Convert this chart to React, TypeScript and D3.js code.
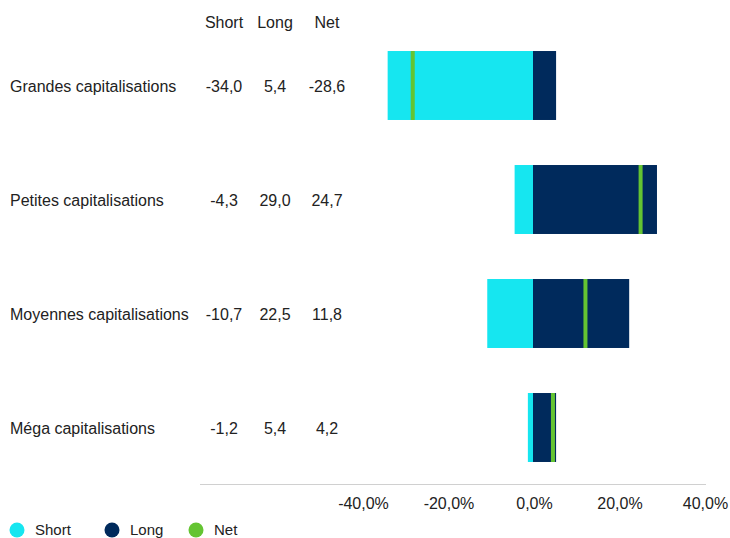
import { useEffect, useRef } from 'react';
import * as d3 from 'd3';

const categories = [
  'Grandes capitalisations',
  'Petites capitalisations',
  'Moyennes capitalisations',
  'Méga capitalisations',
];
const shortValues = [-34.0, -4.3, -10.7, -1.2];
const longValues = [5.4, 29.0, 22.5, 5.4];
const netValues = [-28.6, 24.7, 11.8, 4.2];
const xTicks = [-40, -20, 0, 20, 40];
const columns = ['Short', 'Long', 'Net'];

const colors = { Short: '#16e6f0', Long: '#002a5c', Net: '#64c432' };

const fmt = (v: number) => v.toFixed(1).replace('.', ',');

export default function App() {
  const svgRef = useRef<SVGSVGElement>(null);
  const width = 730;
  const height = 538;

  useEffect(() => {
    if (!svgRef.current) return;
    const svg = d3.select(svgRef.current);
    svg.selectAll('*').remove();

    const font = '"Liberation Sans", Arial, sans-serif';
    const fontSize = '16px';
    const textColor = '#222';

    const x = d3.scaleLinear().domain([-40, 40]).range([362, 704]);
    const y = d3.scaleBand<string>()
      .domain(categories)
      .range([28.5, 484.5])
      .paddingInner(0.395)
      .paddingOuter(0.1975);

    const colX = [224, 275, 327];

    // headers
    svg.append('g').selectAll('text')
      .data(columns)
      .join('text')
      .attr('x', (_, i) => colX[i])
      .attr('y', 28)
      .attr('text-anchor', 'middle')
      .style('font-family', font)
      .style('font-size', fontSize)
      .style('fill', textColor)
      .text(d => d);

    const rows = categories.map((c, i) => ({
      cat: c, s: shortValues[i], l: longValues[i], n: netValues[i],
    }));

    // row labels
    svg.append('g').selectAll('text')
      .data(rows)
      .join('text')
      .attr('x', 10)
      .attr('y', d => (y(d.cat) || 0) + y.bandwidth() / 2 + 1)
      .attr('dy', '0.35em')
      .style('font-family', font)
      .style('font-size', fontSize)
      .style('fill', textColor)
      .text(d => d.cat);

    // value columns
    rows.forEach(d => {
      [d.s, d.l, d.n].forEach((v, j) => {
        svg.append('text')
          .attr('x', colX[j])
          .attr('y', (y(d.cat) || 0) + y.bandwidth() / 2 + 1)
          .attr('dy', '0.35em')
          .attr('text-anchor', 'middle')
          .style('font-family', font)
          .style('font-size', fontSize)
          .style('fill', textColor)
          .text(fmt(v));
      });
    });

    // short bars
    svg.append('g').selectAll('rect')
      .data(rows)
      .join('rect')
      .attr('x', d => x(d.s))
      .attr('y', d => y(d.cat) || 0)
      .attr('width', d => x(0) - x(d.s))
      .attr('height', y.bandwidth())
      .attr('fill', colors.Short);

    // long bars
    svg.append('g').selectAll('rect')
      .data(rows)
      .join('rect')
      .attr('x', x(0))
      .attr('y', d => y(d.cat) || 0)
      .attr('width', d => x(d.l) - x(0))
      .attr('height', y.bandwidth())
      .attr('fill', colors.Long);

    // net markers (left edge on the value)
    svg.append('g').selectAll('rect')
      .data(rows)
      .join('rect')
      .attr('x', d => x(d.n))
      .attr('y', d => y(d.cat) || 0)
      .attr('width', 4)
      .attr('height', y.bandwidth())
      .attr('fill', colors.Net);

    // axis
    svg.append('line')
      .attr('x1', 200).attr('x2', 706)
      .attr('y1', 484.5).attr('y2', 484.5)
      .attr('stroke', '#d0d0d0')
      .attr('stroke-width', 1);

    svg.append('g').selectAll('text')
      .data(xTicks)
      .join('text')
      .attr('x', d => x(d) + 1.5)
      .attr('y', 509)
      .attr('text-anchor', 'middle')
      .style('font-family', font)
      .style('font-size', fontSize)
      .style('fill', textColor)
      .text(d => fmt(d) + '%');

    // legend
    const legendX = [17, 112, 196];
    const lg = svg.append('g').selectAll('g')
      .data(columns)
      .join('g')
      .attr('transform', (_, i) => `translate(${legendX[i]},530)`);
    lg.append('circle')
      .attr('r', 7.5)
      .attr('fill', d => colors[d as keyof typeof colors]);
    lg.append('text')
      .attr('x', 18)
      .attr('dy', '0.35em')
      .style('font-family', font)
      .style('font-size', '15px')
      .style('fill', textColor)
      .text(d => d);
  }, []);

  return (
    <svg
      ref={svgRef}
      width={width}
      height={height}
      style={{ position: 'absolute', left: 0, top: 0 }}
    />
  );
}
